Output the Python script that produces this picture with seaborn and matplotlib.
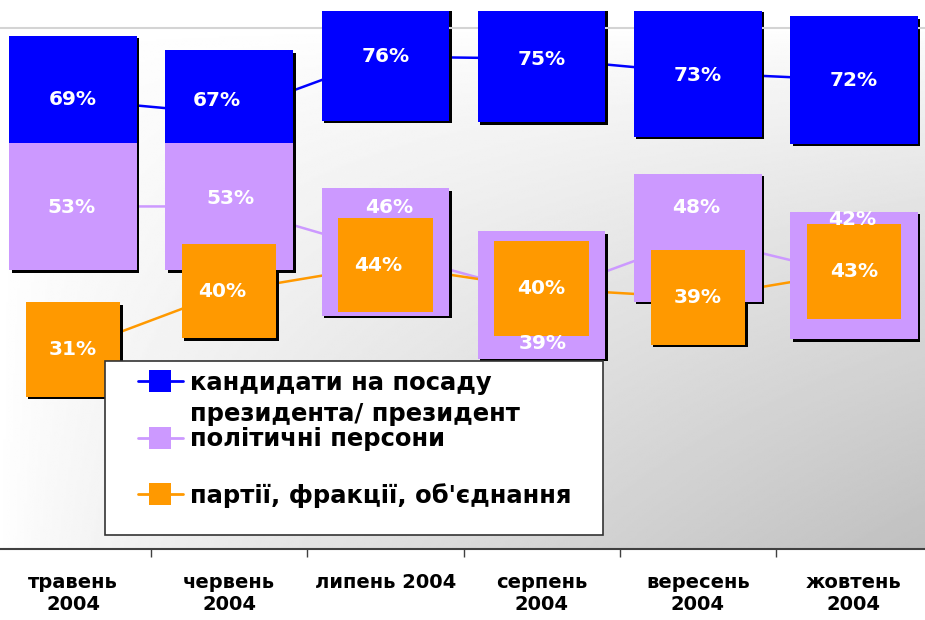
import numpy as np
import pandas as pd
import seaborn as sns
import matplotlib.pyplot as plt
import matplotlib.patheffects as pe
from matplotlib.lines import Line2D
from matplotlib.patches import Rectangle

# values (labels are the rounded values)
months = ['травень\n2004', 'червень\n2004', 'липень 2004', 'серпень\n2004', 'вересень\n2004', 'жовтень\n2004']
series_keys = ['candidates', 'persons', 'parties']
legend_labels = ['кандидати на посаду', 'політичні персони', "партії, фракції, об'єднання"]
legend_second_line = 'президента/ президент'
candidates = [69.0, 66.8, 75.6, 75.3, 73.1, 72.0]
persons = [52.6, 52.6, 45.6, 39.0, 47.8, 42.0]
parties = [30.6, 39.6, 43.6, 40.0, 38.6, 42.6]

colors = ['#0000ff', '#cc99ff', '#ff9900']
box_sizes = [92, 92, 68]  # square marker side in points

# labels in the original were dragged around by hand, nudges in points
label_shift = [
    [(0, 0), (-9, 10), (0, 0), (0, -1), (0, -2), (0, 0)],
    [(-1, -1), (1, 6), (3, 32), (1, -35), (-1, 22), (-1, 40)],
    [(0, 0), (-5, 0), (-5, 0), (0, 0), (0, 0), (0, 0)],
]

df = pd.DataFrame({
    'pos': list(range(len(months))) * 3,
    'series': np.repeat(series_keys, len(months)),
    'value': candidates + persons + parties,
})
palette = dict(zip(series_keys, colors))
sizes = {k: s ** 2 for k, s in zip(series_keys, box_sizes)}

sns.set_theme(style='white')
plt.rcParams['font.family'] = ['DejaVu Sans']

W, H = 925, 620
fig = plt.figure(figsize=(W / 100, H / 100), dpi=100)
ax_top, ax_bot = 28, 549
ax = fig.add_axes([0, (H - ax_bot) / H, 1, (ax_bot - ax_top) / H])

# gray gradient background, darker towards bottom right
gx, gy = np.meshgrid(np.linspace(0, 1, 400), np.linspace(0, 1, 300))
shade = (255 - 63 * (gx * gy) ** 0.75) / 255
ax.imshow(shade, cmap='gray', vmin=0, vmax=1, extent=[0, 1, 0, 1], transform=ax.transAxes,
          origin='upper', aspect='auto', zorder=0, interpolation='bilinear')

sns.lineplot(data=df, x='pos', y='value', hue='series', palette=palette, sort=False,
             estimator=None, lw=1.8, legend=False, ax=ax, zorder=2)

# shadows first, then the boxes
sns.scatterplot(data=df, x='pos', y='value', size='series', sizes=sizes, color='black',
                marker='s', linewidth=0, legend=False, ax=ax, zorder=2.5,
                path_effects=[pe.SimplePatchShadow(offset=(1.8, -1.8), shadow_rgbFace='black', alpha=1.0)])
sns.scatterplot(data=df, x='pos', y='value', hue='series', palette=palette, size='series',
                sizes=sizes, marker='s', linewidth=0, legend=False, ax=ax, zorder=3)

clip_rect = Rectangle((0, 0), 1, 1 - 11 / H, transform=fig.transFigure)
for coll in ax.collections:
    coll.set_clip_path(clip_rect)

for vals, shifts in zip([candidates, persons, parties], label_shift):
    for i, v in enumerate(vals):
        ax.annotate(f'{round(v)}%', (i, v), xytext=shifts[i], textcoords='offset points',
                    ha='center', va='center', color='white', fontsize=14.5,
                    fontweight='bold', zorder=4)

ax.set_xlim(-73 / 156.2, (W - 73) / 156.2)
ax.set_ylim(0, 80)
ax.set_xticks(range(len(months)))
ax.set_xticklabels(months, fontsize=14, fontweight='bold', color='black')
ax.set_xticks([i + 0.5 for i in range(len(months) - 1)], minor=True)
ax.tick_params(axis='x', which='major', length=0, pad=17)
ax.tick_params(axis='x', which='minor', bottom=True, length=6, width=1, color='#404040', direction='out')
ax.set_yticks([])
ax.set_xlabel('')
ax.set_ylabel('')
for side in ['left', 'right']:
    ax.spines[side].set_visible(False)
ax.spines['bottom'].set_color('#404040')
ax.spines['bottom'].set_linewidth(1.5)
ax.spines['top'].set_color('#d4d4d4')
ax.spines['top'].set_linewidth(1.5)

# legend: white box, handles and text
ax.add_patch(Rectangle((105 / W, (ax_bot - 535) / (ax_bot - ax_top)), 498 / W, 174 / (ax_bot - ax_top),
                       transform=ax.transAxes, facecolor='white', edgecolor='#333333', lw=1.2,
                       zorder=5, clip_on=False))
handles = [Line2D([], [], color=c, lw=2, marker='s', markersize=16, markeredgewidth=0) for c in colors]
leg = ax.legend(handles, legend_labels, loc='upper left',
                bbox_to_anchor=(138 / W, (ax_bot - 371) / (ax_bot - ax_top)),
                frameon=False, borderpad=0, borderaxespad=0, handlelength=1.85,
                handletextpad=0.29, labelspacing=1.32, labelcolor='black',
                prop={'size': 17.5, 'weight': 'bold'})
leg.set_zorder(6)

fig.canvas.draw()
bb = leg.get_texts()[0].get_window_extent()
fig.text(bb.x0 / W, (bb.y0 - 31) / H, legend_second_line, fontsize=17.5, fontweight='bold',
         color='black', ha='left', va='bottom', zorder=7)

fig.savefig('out.png', dpi=100)
